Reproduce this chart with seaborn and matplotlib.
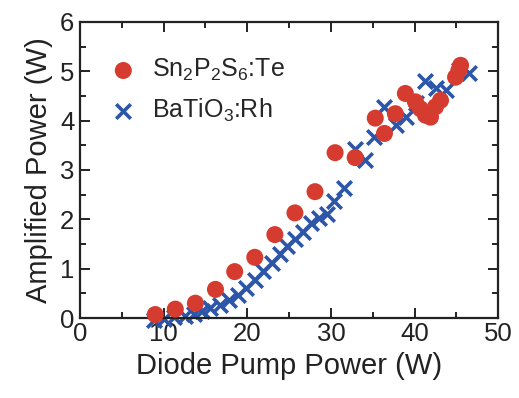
import numpy as np
import pandas as pd
import matplotlib
matplotlib.use("Agg")
import matplotlib.pyplot as plt
import seaborn as sns
from matplotlib.ticker import MultipleLocator

# Sn2P2S6:Te data (red dots)
sps_pump = [9.0, 11.4, 13.8, 16.2, 18.5, 20.9, 23.3, 25.7, 28.1, 30.5, 32.9,
            35.3, 36.4, 37.7, 38.9, 40.1, 40.7, 41.3, 41.9, 42.5, 43.1, 44.9,
            45.3, 45.5]
sps_power = [0.07, 0.18, 0.30, 0.58, 0.94, 1.23, 1.69, 2.13, 2.56, 3.35, 3.25,
             4.05, 3.74, 4.14, 4.55, 4.38, 4.24, 4.11, 4.07, 4.28, 4.41, 4.88,
             5.02, 5.12]

# BaTiO3:Rh data (blue crosses)
bto_pump = [8.8, 10.1, 11.3, 12.5, 13.6, 14.6, 15.6, 16.7, 17.8, 18.9, 19.9,
            20.9, 21.9, 22.9, 23.9, 24.8, 25.7, 26.7, 27.6, 28.6, 29.5, 30.4,
            31.6, 32.9, 34.1, 35.1, 36.4, 37.8, 39.0, 40.2, 41.3, 42.6, 43.8,
            45.3, 46.5]
bto_power = [-0.05, -0.02, 0.02, 0.05, 0.09, 0.14, 0.20, 0.27, 0.36, 0.47, 0.60,
             0.78, 0.96, 1.12, 1.30, 1.45, 1.60, 1.75, 1.92, 2.02, 2.10, 2.38,
             2.64, 3.42, 3.20, 3.66, 4.28, 3.92, 4.08, 4.35, 4.80, 4.66, 4.62,
             5.02, 4.96]

sps = pd.DataFrame({"pump": sps_pump, "power": sps_power})
bto = pd.DataFrame({"pump": bto_pump, "power": bto_power})

sns.set_style("ticks")
plt.rcParams["font.family"] = ["Liberation Sans", "DejaVu Sans"]
plt.rcParams["mathtext.default"] = "regular"

fig = plt.figure(figsize=(5.19, 3.98), dpi=100)
ax = fig.add_axes([0.154, 0.201, 0.806, 0.744])

sns.scatterplot(data=bto, x="pump", y="power", ax=ax, marker="x", s=110,
                color="#2d56a8", linewidth=2.6, label=r"BaTiO$_3$:Rh",
                zorder=2, clip_on=False)
sns.scatterplot(data=sps, x="pump", y="power", ax=ax, marker="o", s=150,
                color="#d63b2f", edgecolor="none", label=r"Sn$_2$P$_2$S$_6$:Te",
                zorder=3, clip_on=False)

ax.set_xlim(0, 50)
ax.set_ylim(0, 6)
ax.xaxis.set_major_locator(MultipleLocator(10))
ax.xaxis.set_minor_locator(MultipleLocator(5))
ax.yaxis.set_major_locator(MultipleLocator(1))
ax.yaxis.set_minor_locator(MultipleLocator(0.5))
ax.tick_params(which="both", direction="in", top=True, right=True,
               width=1.4, colors="#222222", labelsize=18.5)
ax.tick_params(axis="x", pad=3)
ax.tick_params(axis="y", pad=4)
ax.tick_params(which="major", length=7)
ax.tick_params(which="minor", length=4)
for sp in ax.spines.values():
    sp.set_linewidth(1.6)
    sp.set_color("#222222")

ax.set_xlabel("Diode Pump Power (W)", fontsize=21, color="#222222", labelpad=4)
ax.set_ylabel("Amplified Power (W)", fontsize=21, color="#222222", labelpad=5)

handles, labels = ax.get_legend_handles_labels()
ax.legend(handles[::-1], labels[::-1], loc="upper left", frameon=False,
          fontsize=18, handletextpad=0.16, labelspacing=0.55,
          borderaxespad=0.0, bbox_to_anchor=(0.02, 0.915))

fig.savefig("out.png", dpi=100)
